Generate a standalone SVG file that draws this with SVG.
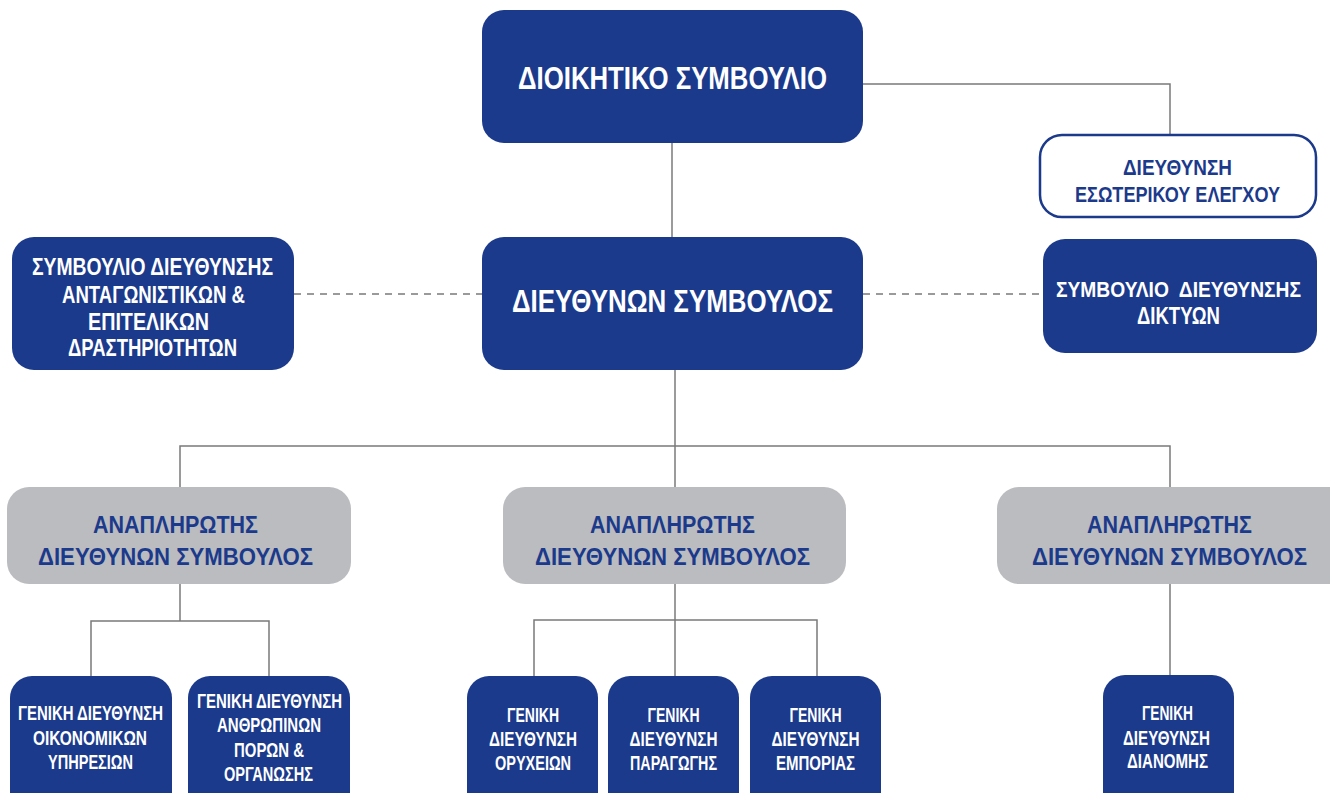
<svg xmlns="http://www.w3.org/2000/svg" width="1330" height="793" viewBox="0 0 1330 793">
<style>
.blue{fill:#1c3a8b}
.gray{fill:#bbbcc0}
.outline{fill:#ffffff;stroke:#1c3a8b;stroke-width:2.5}
text{font-family:"Liberation Sans",Arial,sans-serif;font-weight:bold;text-anchor:middle}
.w{fill:#ffffff}
.b{fill:#1c3a8b}
.ln{fill:none;stroke:#7a7a7a;stroke-width:1.5}
.dash{fill:none;stroke:#7a7a7a;stroke-width:1.5;stroke-dasharray:7,6}
</style>
<rect width="1330" height="793" fill="#ffffff"/>
<g id="connectors">
<path class="ln" d="M863 84 H1170 V135"/>
<path class="ln" d="M672 143 V237"/>
<path class="dash" d="M294 294 H482"/>
<path class="dash" d="M863 294 H1043"/>
<path class="ln" d="M675 370 V488"/>
<path class="ln" d="M180 488 V446 H1170 V488"/>
<path class="ln" d="M180 584 V621"/>
<path class="ln" d="M91 676 V621 H269 V676"/>
<path class="ln" d="M675 584 V676"/>
<path class="ln" d="M534 676 V620 H817 V676"/>
<path class="ln" d="M1170 584 V675"/>
</g>
<g id="board">
<rect class="blue" x="482" y="10" width="381" height="133" rx="22"/>
<text class="w" x="672.5" y="89" font-size="31" textLength="309" lengthAdjust="spacingAndGlyphs">ΔΙΟΙΚΗΤΙΚΟ ΣΥΜΒΟΥΛΙΟ</text>
</g>
<g id="internal-audit">
<rect class="outline" x="1040" y="135" width="276" height="82" rx="22"/>
<text class="b" x="1177.5" y="175" font-size="22" textLength="109" lengthAdjust="spacingAndGlyphs">ΔΙΕΥΘΥΝΣΗ</text>
<text class="b" x="1177.5" y="202" font-size="22" textLength="205" lengthAdjust="spacingAndGlyphs">ΕΣΩΤΕΡΙΚΟΥ ΕΛΕΓΧΟΥ</text>
</g>
<g id="ceo">
<rect class="blue" x="482" y="237" width="381" height="133" rx="22"/>
<text class="w" x="672.5" y="312" font-size="31" textLength="321" lengthAdjust="spacingAndGlyphs">ΔΙΕΥΘΥΝΩΝ ΣΥΜΒΟΥΛΟΣ</text>
</g>
<g id="board-competitive">
<rect class="blue" x="12" y="237" width="282" height="133" rx="22"/>
<text class="w" x="152.5" y="275" font-size="24" textLength="241" lengthAdjust="spacingAndGlyphs">ΣΥΜΒΟΥΛΙΟ ΔΙΕΥΘΥΝΣΗΣ</text>
<text class="w" x="153.5" y="303" font-size="24" textLength="183" lengthAdjust="spacingAndGlyphs">ΑΝΤΑΓΩΝΙΣΤΙΚΩΝ &amp;</text>
<text class="w" x="148.5" y="330" font-size="24" textLength="121" lengthAdjust="spacingAndGlyphs">ΕΠΙΤΕΛΙΚΩΝ</text>
<text class="w" x="152.5" y="356" font-size="24" textLength="169" lengthAdjust="spacingAndGlyphs">ΔΡΑΣΤΗΡΙΟΤΗΤΩΝ</text>
</g>
<g id="board-networks">
<rect class="blue" x="1043" y="239" width="274" height="114" rx="22"/>
<text class="w" x="1178.5" y="297" font-size="22" textLength="245" lengthAdjust="spacingAndGlyphs" style="white-space:pre">ΣΥΜΒΟΥΛΙΟ  ΔΙΕΥΘΥΝΣΗΣ</text>
<text class="w" x="1178.5" y="324" font-size="23" textLength="83" lengthAdjust="spacingAndGlyphs">ΔΙΚΤΥΩΝ</text>
</g>
<g id="deputy-1">
<rect class="gray" x="7" y="487" width="344" height="97" rx="22"/>
<text class="b" x="175.5" y="533" font-size="23" textLength="165" lengthAdjust="spacingAndGlyphs">ΑΝΑΠΛΗΡΩΤΗΣ</text>
<text class="b" x="175.5" y="565" font-size="23" textLength="275" lengthAdjust="spacingAndGlyphs">ΔΙΕΥΘΥΝΩΝ ΣΥΜΒΟΥΛΟΣ</text>
</g>
<g id="deputy-2">
<rect class="gray" x="503" y="487" width="343" height="97" rx="22"/>
<text class="b" x="672.5" y="533" font-size="23" textLength="165" lengthAdjust="spacingAndGlyphs">ΑΝΑΠΛΗΡΩΤΗΣ</text>
<text class="b" x="672.5" y="565" font-size="23" textLength="275" lengthAdjust="spacingAndGlyphs">ΔΙΕΥΘΥΝΩΝ ΣΥΜΒΟΥΛΟΣ</text>
</g>
<g id="deputy-3">
<rect class="gray" x="997" y="487" width="355" height="97" rx="22"/>
<text class="b" x="1169.5" y="533" font-size="23" textLength="165" lengthAdjust="spacingAndGlyphs">ΑΝΑΠΛΗΡΩΤΗΣ</text>
<text class="b" x="1169.5" y="565" font-size="23" textLength="275" lengthAdjust="spacingAndGlyphs">ΔΙΕΥΘΥΝΩΝ ΣΥΜΒΟΥΛΟΣ</text>
</g>
<g id="gd-finance">
<rect class="blue" x="10" y="676" width="162" height="140" rx="22"/>
<text class="w" x="90.5" y="720" font-size="20" textLength="145" lengthAdjust="spacingAndGlyphs">ΓΕΝΙΚΗ ΔΙΕΥΘΥΝΣΗ</text>
<text class="w" x="90" y="745" font-size="20" textLength="114" lengthAdjust="spacingAndGlyphs">ΟΙΚΟΝΟΜΙΚΩΝ</text>
<text class="w" x="90.5" y="769" font-size="20" textLength="85" lengthAdjust="spacingAndGlyphs">ΥΠΗΡΕΣΙΩΝ</text>
</g>
<g id="gd-hr">
<rect class="blue" x="188" y="676" width="162" height="140" rx="22"/>
<text class="w" x="269.5" y="708" font-size="20" textLength="145" lengthAdjust="spacingAndGlyphs">ΓΕΝΙΚΗ ΔΙΕΥΘΥΝΣΗ</text>
<text class="w" x="269" y="732" font-size="20" textLength="104" lengthAdjust="spacingAndGlyphs">ΑΝΘΡΩΠΙΝΩΝ</text>
<text class="w" x="269" y="757" font-size="20" textLength="70" lengthAdjust="spacingAndGlyphs">ΠΟΡΩΝ &amp;</text>
<text class="w" x="268.5" y="781" font-size="20" textLength="89" lengthAdjust="spacingAndGlyphs">ΟΡΓΑΝΩΣΗΣ</text>
</g>
<g id="gd-mines">
<rect class="blue" x="467" y="676" width="131" height="140" rx="22"/>
<text class="w" x="533" y="722" font-size="20" textLength="52" lengthAdjust="spacingAndGlyphs">ΓΕΝΙΚΗ</text>
<text class="w" x="533" y="746" font-size="20" textLength="88" lengthAdjust="spacingAndGlyphs">ΔΙΕΥΘΥΝΣΗ</text>
<text class="w" x="533" y="770" font-size="20" textLength="76" lengthAdjust="spacingAndGlyphs">ΟΡΥΧΕΙΩΝ</text>
</g>
<g id="gd-production">
<rect class="blue" x="608" y="676" width="131" height="140" rx="22"/>
<text class="w" x="673.5" y="722" font-size="20" textLength="52" lengthAdjust="spacingAndGlyphs">ΓΕΝΙΚΗ</text>
<text class="w" x="673.5" y="746" font-size="20" textLength="88" lengthAdjust="spacingAndGlyphs">ΔΙΕΥΘΥΝΣΗ</text>
<text class="w" x="673.5" y="770" font-size="20" textLength="87" lengthAdjust="spacingAndGlyphs">ΠΑΡΑΓΩΓΗΣ</text>
</g>
<g id="gd-commerce">
<rect class="blue" x="750" y="676" width="131" height="140" rx="22"/>
<text class="w" x="815.5" y="722" font-size="20" textLength="52" lengthAdjust="spacingAndGlyphs">ΓΕΝΙΚΗ</text>
<text class="w" x="815.5" y="746" font-size="20" textLength="88" lengthAdjust="spacingAndGlyphs">ΔΙΕΥΘΥΝΣΗ</text>
<text class="w" x="815.5" y="770" font-size="20" textLength="79" lengthAdjust="spacingAndGlyphs">ΕΜΠΟΡΙΑΣ</text>
</g>
<g id="gd-distribution">
<rect class="blue" x="1103" y="675" width="131" height="140" rx="22"/>
<text class="w" x="1167.5" y="720" font-size="20" textLength="51" lengthAdjust="spacingAndGlyphs">ΓΕΝΙΚΗ</text>
<text class="w" x="1166.5" y="745" font-size="20" textLength="87" lengthAdjust="spacingAndGlyphs">ΔΙΕΥΘΥΝΣΗ</text>
<text class="w" x="1167.5" y="768" font-size="20" textLength="81" lengthAdjust="spacingAndGlyphs">ΔΙΑΝΟΜΗΣ</text>
</g>
</svg>
